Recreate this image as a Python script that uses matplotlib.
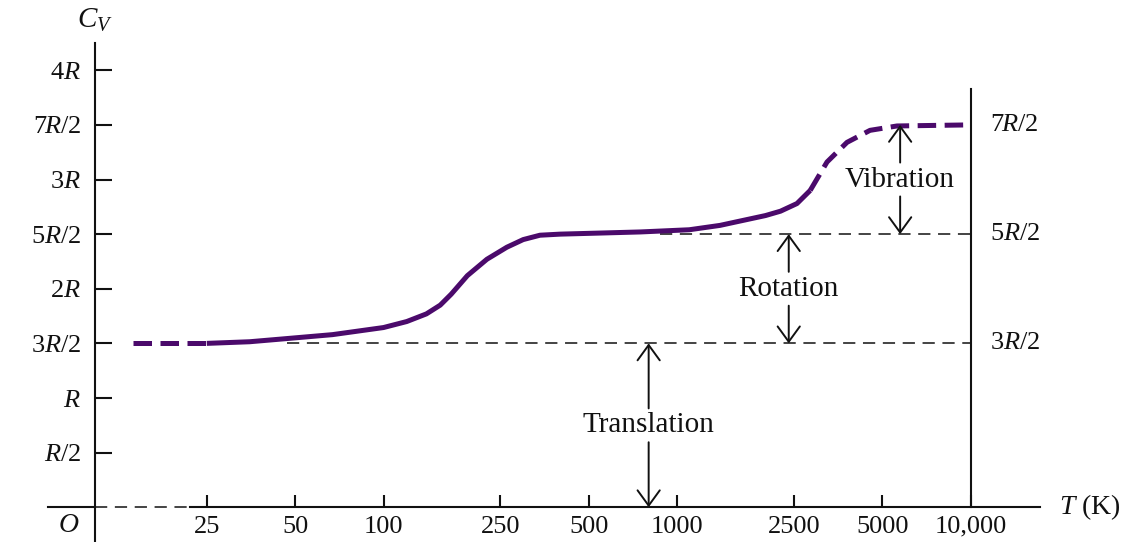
import matplotlib
matplotlib.use("Agg")
import matplotlib.pyplot as plt
from matplotlib.ticker import FixedLocator, NullLocator

plt.rcParams["font.family"] = ["Liberation Serif", "DejaVu Serif"]
plt.rcParams["mathtext.fontset"] = "custom"
plt.rcParams["mathtext.rm"] = "Liberation Serif"
plt.rcParams["mathtext.it"] = "Liberation Serif:italic"

# Cv of a diatomic gas in units of R
T_low = [14, 25]
cv_low = [1.5, 1.5]

T_mid = [25, 35, 45, 67, 100, 120, 140, 156, 170, 193, 225, 263, 299, 341,
         400, 550, 750, 1100, 1400, 1640, 2000, 2250, 2560, 2840]
cv_mid = [1.50, 1.515, 1.54, 1.58, 1.645, 1.70, 1.77, 1.85, 1.95, 2.12, 2.27,
          2.38, 2.45, 2.49, 2.50, 2.51, 2.52, 2.54, 2.58, 2.62, 2.67, 2.71,
          2.78, 2.90]

T_high = [2840, 3240, 3790, 4540, 5610, 10000]
cv_high = [2.90, 3.16, 3.34, 3.45, 3.49, 3.50]

x_ticks = [25, 50, 100, 250, 500, 1000, 2500, 5000, 10000]
x_labels = ["25", "50", "100", "250", "500", "1000", "2500", "5000", "10,000"]

y_ticks = [0.5, 1, 1.5, 2, 2.5, 3, 3.5, 4]
y_labels = ["$R/2$", "$R$", "$3R/2$", "$2R$", "$5R/2$", "$3R$", "$7R/2$", "$4R$"]

right_levels = [3.5, 2.5, 1.5]
right_labels = ["$7R/2$", "$5R/2$", "$3R/2$"]

# reference dashed levels: (value, T start)
ref_levels = [1.5, 2.5]
ref_start = [47, 876]

# contributions: arrow at T, from lo to hi
contrib_names = ["Translation", "Rotation", "Vibration"]
contrib_T = [800, 2400, 5750]
contrib_lo = [0, 1.5, 2.5]
contrib_hi = [1.5, 2.5, 3.5]

T_axis = 10.4
T_end = 10000
purple = "#4b0a6b"
ink = "#111111"

fig = plt.figure(figsize=(11.41, 5.42), dpi=100)
ax = fig.add_axes([0, 0, 1, 1])
ax.patch.set_visible(False)
ax.set_xscale("log")
ax.set_xlim(4.94, 38020)
ax.set_ylim(-0.318, 4.643)

ax.spines["top"].set_visible(False)
ax.spines["right"].set_visible(False)
ax.spines["left"].set_position(("data", T_axis))
ax.spines["bottom"].set_position(("data", 0))
ax.spines["left"].set_bounds(-0.318, 4.25)
ax.spines["bottom"].set_bounds(22, 17220)
for s in ("left", "bottom"):
    ax.spines[s].set_linewidth(1.5)
    ax.spines[s].set_color(ink)

ax.xaxis.set_major_locator(FixedLocator(x_ticks))
ax.xaxis.set_minor_locator(NullLocator())
ax.set_xticklabels(x_labels)
ax.set_yticks(y_ticks)
ax.set_yticklabels(y_labels)
ax.tick_params(axis="x", direction="in", length=9, width=1.5, pad=6,
               labelsize=19, colors=ink)
ax.tick_params(axis="y", direction="in", length=12, width=1.5, pad=10,
               labelsize=19, colors=ink)

# axis pieces left of the tick region
ax.plot([7.2, T_axis], [0, 0], color=ink, lw=1.5)
ax.plot([T_axis, 22], [0, 0], color=ink, lw=1.1, dashes=(8, 5))

# right boundary line
ax.plot([T_end, T_end], [0, 3.83], color=ink, lw=1.5)

for lvl, t0 in zip(ref_levels, ref_start):
    ax.plot([t0, T_end], [lvl, lvl], color=ink, lw=1.1, dashes=(8, 5), zorder=1)

ax.plot(T_low, cv_low, color=purple, lw=3.6, dashes=(3.7, 1.7), zorder=3)
ax.plot(T_mid, cv_mid, color=purple, lw=3.6, solid_capstyle="butt",
        solid_joinstyle="round", zorder=3)
ax.plot(T_high, cv_high, color=purple, lw=3.6, dashes=(3.7, 1.7),
        dash_joinstyle="round", zorder=3)

for lvl, lab in zip(right_levels, right_labels):
    ax.annotate(lab, xy=(T_end, lvl), xytext=(14, 0), textcoords="offset points",
                ha="left", va="center", fontsize=19, color=ink)

gap = 0.155
for name, t, lo, hi in zip(contrib_names, contrib_T, contrib_lo, contrib_hi):
    mid = (lo + hi) / 2
    style = dict(arrowstyle="->,head_length=0.55,head_width=0.4", lw=1.4,
                 color=ink, shrinkA=0, shrinkB=0, mutation_scale=20)
    ax.annotate("", xy=(t, hi), xytext=(t, mid + gap), arrowprops=style)
    ax.annotate("", xy=(t, lo), xytext=(t, mid - gap), arrowprops=style)
    ax.text(t, mid, name, ha="center", va="center", fontsize=21, color=ink)

ax.annotate("$C_V$", xy=(T_axis, 4.25), xytext=(0, 16), textcoords="offset points",
            ha="center", va="center", fontsize=21, color=ink)
ax.annotate("$O$", xy=(T_axis, 0), xytext=(-19, -13), textcoords="offset points",
            ha="center", va="center", fontsize=20, color=ink)
ax.annotate("$T$ (K)", xy=(17220, 0), xytext=(14, 0), textcoords="offset points",
            ha="left", va="center", fontsize=20, color=ink)

fig.savefig("out.png", dpi=100)
